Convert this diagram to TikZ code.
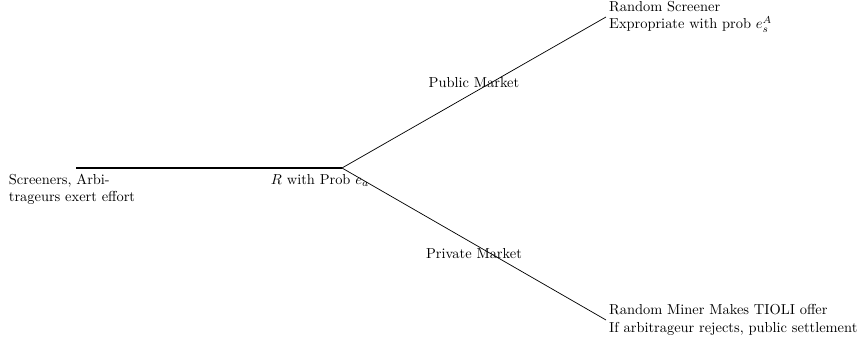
\documentclass[tikz,border=0pt]{standalone}
\begin{document}
\begin{tikzpicture}[x=0.6925pt,y=-0.6925pt,
  branch/.style={line width=0.5pt},
  trunk/.style={line width=1.8pt},
  lbl/.style={inner sep=2pt, align=left, font=\normalsize}]
\useasboundingbox (0,0) rectangle (862,341);
\coordinate (start) at (76,168);
\coordinate (root) at (342,168);
\coordinate (top) at (606,17);
\coordinate (bot) at (606,320);
\draw[trunk] (start) -- (root);
\draw[branch] (root) -- node[above, inner sep=3pt] (pub) {Public Market} (top);
\draw[branch] (root) -- node[below, inner sep=3pt] (priv) {Private Market} (bot);
\node[lbl, anchor=west] (tl) at (top) {Random Screener\\Expropriate with prob $e_s^A$};
\node[lbl, anchor=west] (bl) at (bot) {Random Miner Makes TIOLI offer\\If arbitrageur rejects, public settlement};
\node[lbl, anchor=north] (rl) at (320,171) {$R$ with Prob $e_a$};
\node[lbl, anchor=north] (sl) at (72,171) {Screeners, Arbi-\\trageurs exert effort};
\end{tikzpicture}
\end{document}
